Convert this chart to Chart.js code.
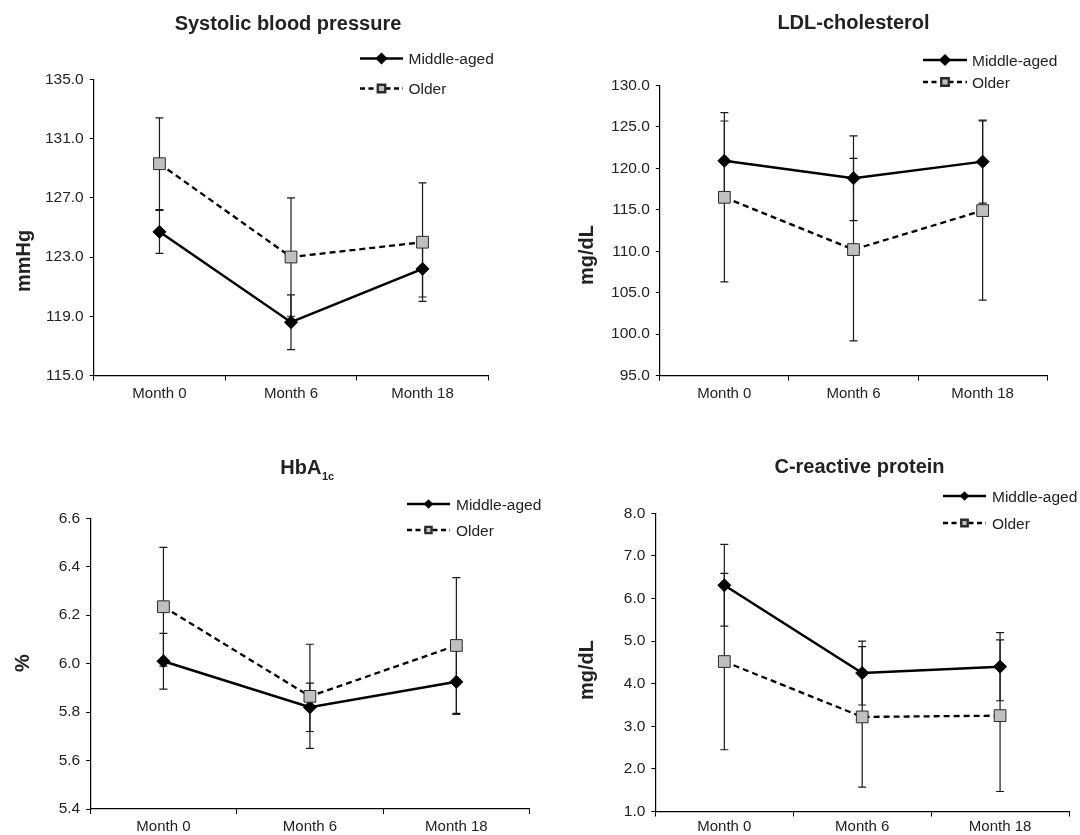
<!DOCTYPE html>
<html>
<head>
<meta charset="utf-8">
<script src="https://cdn.jsdelivr.net/npm/chart.js@4.4.1/dist/chart.umd.min.js"></script>
<style>
html,body{margin:0;padding:0;background:#fff;}
body{width:1080px;height:835px;position:relative;overflow:hidden;}
canvas{position:absolute;left:0;top:0;}
</style>
</head>
<body>
<canvas id="c1" width="1080" height="870"></canvas>
<canvas id="c2" width="1080" height="870"></canvas>
<canvas id="c3" width="1080" height="870"></canvas>
<canvas id="c4" width="1080" height="870"></canvas>
<script>
// ---------- data ----------
const months = ['Month 0', 'Month 6', 'Month 18'];
const seriesNames = ['Middle-aged', 'Older'];

const sbpMiddle    = [124.7, 118.6, 122.2];
const sbpMiddleErr = [1.45, 1.85, 1.9];
const sbpOlder     = [129.3, 123.0, 124.0];
const sbpOlderErr  = [3.1, 4.0, 4.0];
const sbpTicks     = [115, 119, 123, 127, 131, 135];

const ldlMiddle    = [120.9, 118.8, 120.8];
const ldlMiddleErr = [4.8, 5.1, 5.0];
const ldlOlder     = [116.5, 110.2, 114.9];
const ldlOlderErr  = [10.2, 11.0, 10.8];
const ldlTicks     = [95, 100, 105, 110, 115, 120, 125, 130];

const hbaMiddle    = [6.01, 5.82, 5.925];
const hbaMiddleErr = [0.115, 0.10, 0.135];
const hbaOlder     = [6.235, 5.865, 6.075];
const hbaOlderErr  = [0.245, 0.215, 0.28];
const hbaTicks     = [5.4, 5.6, 5.8, 6.0, 6.2, 6.4, 6.6];

const crpMiddle    = [6.31, 4.25, 4.40];
const crpMiddleErr = [0.96, 0.75, 0.80];
const crpOlder     = [4.52, 3.22, 3.25];
const crpOlderErr  = [2.07, 1.65, 1.78];
const crpTicks     = [1, 2, 3, 4, 5, 6, 7, 8];

// ---------- styling / layout ----------
const FONT = '"Liberation Sans", Arial, Helvetica, sans-serif';
const TEXT = '#222222';
const CW = 1080, CH = 870;
const Y_W = 70, X_H = 34;

const panels = [
  { id: 'c1', title: 'Systolic blood pressure', sub: '', yLabel: 'mmHg',
    mid: sbpMiddle, midErr: sbpMiddleErr, old: sbpOlder, oldErr: sbpOlderErr, ticks: sbpTicks,
    area: { l: 93.7, r: 488.3, t: 79.3, b: 375.5 }, xPad: 4,
    titlePos: [288, 30], yLabelPos: [29.5, 261],
    legend: { x1: 360, x2: 403, tx: 408.5, ys: [58.5, 88.5], rd: 4.3, rs: 5.3 } },
  { id: 'c2', title: 'LDL-cholesterol', sub: '', yLabel: 'mg/dL',
    mid: ldlMiddle, midErr: ldlMiddleErr, old: ldlOlder, oldErr: ldlOlderErr, ticks: ldlTicks,
    area: { l: 659.8, r: 1047.2, t: 85.3, b: 375.7 }, xPad: 4,
    titlePos: [853.5, 28.5], yLabelPos: [593, 255],
    legend: { x1: 923, x2: 967, tx: 972, ys: [60, 82], rd: 4.3, rs: 5.3 } },
  { id: 'c3', title: 'HbA', sub: '1c', yLabel: '%',
    mid: hbaMiddle, midErr: hbaMiddleErr, old: hbaOlder, oldErr: hbaOlderErr, ticks: hbaTicks,
    area: { l: 90.2, r: 529.6, t: 518.3, b: 809 }, xPad: 3.5,
    titlePos: [307, 474.3], yLabelPos: [29.3, 663],
    legend: { x1: 407, x2: 450, tx: 456, ys: [504, 530], rd: 3.0, rs: 4.4 } },
  { id: 'c4', title: 'C-reactive protein', sub: '', yLabel: 'mg/dL',
    mid: crpMiddle, midErr: crpMiddleErr, old: crpOlder, oldErr: crpOlderErr, ticks: crpTicks,
    area: { l: 655.4, r: 1069, t: 513.3, b: 811.5 }, xPad: 1,
    titlePos: [859.5, 473.3], yLabelPos: [593, 670],
    legend: { x1: 943, x2: 986, tx: 992, ys: [496, 523], rd: 3.0, rs: 4.6 } }
];

// ---------- plugin: error bars, titles, axis labels, legend ----------
const decoPlugin = {
  id: 'deco',
  beforeDatasetsDraw(chart) {
    const ctx = chart.ctx, ys = chart.scales.y;
    chart.data.datasets.forEach((ds, i) => {
      const meta = chart.getDatasetMeta(i);
      ctx.save();
      ctx.strokeStyle = '#1a1a1a';
      ctx.lineWidth = 1.2;
      ctx.setLineDash([]);
      meta.data.forEach((pt, j) => {
        const v = ds.data[j], e = ds.errors[j];
        const yt = ys.getPixelForValue(v + e), yb = ys.getPixelForValue(v - e);
        const x = pt.x;
        ctx.beginPath();
        ctx.moveTo(x, yt); ctx.lineTo(x, yb);
        ctx.moveTo(x - 4, yt); ctx.lineTo(x + 4, yt);
        ctx.moveTo(x - 4, yb); ctx.lineTo(x + 4, yb);
        ctx.stroke();
      });
      ctx.restore();
    });
  },
  afterDraw(chart, args, opts) {
    const p = opts.panel, ctx = chart.ctx;
    ctx.save();
    // title
    ctx.fillStyle = TEXT;
    ctx.textBaseline = 'alphabetic';
    ctx.font = 'bold 20px ' + FONT;
    const tw = ctx.measureText(p.title).width;
    let sw = 0;
    if (p.sub) { ctx.font = 'bold 11px ' + FONT; sw = ctx.measureText(p.sub).width; }
    const startX = p.titlePos[0] - (tw + sw) / 2;
    ctx.textAlign = 'left';
    ctx.font = 'bold 20px ' + FONT;
    ctx.fillText(p.title, startX, p.titlePos[1]);
    if (p.sub) {
      ctx.font = 'bold 11px ' + FONT;
      ctx.fillText(p.sub, startX + tw + 0.5, p.titlePos[1] + 5.5);
    }
    // y axis label
    ctx.save();
    ctx.translate(p.yLabelPos[0], p.yLabelPos[1]);
    ctx.rotate(-Math.PI / 2);
    ctx.textAlign = 'center';
    ctx.font = 'bold 20px ' + FONT;
    ctx.fillText(p.yLabel, 0, 0);
    ctx.restore();
    // legend
    const L = p.legend;
    chart.data.datasets.forEach((ds, i) => {
      const y = L.ys[i];
      ctx.save();
      ctx.strokeStyle = ds.borderColor;
      ctx.lineWidth = ds.borderWidth;
      ctx.setLineDash(ds.legendDash || []);
      ctx.beginPath();
      ctx.moveTo(L.x1, y); ctx.lineTo(L.x2, y);
      ctx.stroke();
      ctx.setLineDash([]);
      ctx.fillStyle = ds.pointBackgroundColor;
      ctx.strokeStyle = ds.pointBorderColor;
      Chart.helpers.drawPoint(ctx, {
        pointStyle: ds.pointStyle, rotation: 0,
        radius: i === 0 ? L.rd : L.rs, borderWidth: ds.pointBorderWidth
      }, (L.x1 + L.x2) / 2, y);
      ctx.restore();
      ctx.fillStyle = TEXT;
      ctx.font = '15.5px ' + FONT;
      ctx.textAlign = 'left';
      ctx.textBaseline = 'alphabetic';
      ctx.fillText(ds.label, L.tx, y + 5.5);
    });
    ctx.restore();
  }
};

function makeChart(p) {
  const a = p.area;
  const tmin = p.ticks[0], tmax = p.ticks[p.ticks.length - 1];
  return new Chart(document.getElementById(p.id), {
    type: 'line',
    data: {
      labels: months,
      datasets: [
        { label: seriesNames[0], data: p.mid, errors: p.midErr,
          borderColor: '#000000', borderWidth: 2.5, borderDash: [], legendDash: [],
          pointStyle: 'rectRot', pointRadius: 6.5,
          pointBackgroundColor: '#000000', pointBorderColor: '#000000', pointBorderWidth: 1,
          tension: 0, fill: false, order: 1 },
        { label: seriesNames[1], data: p.old, errors: p.oldErr,
          borderColor: '#000000', borderWidth: 2.3, borderDash: [6, 4], legendDash: [5, 3.5],
          pointStyle: 'rect', pointRadius: 8.3,
          pointBackgroundColor: '#c0c0c0', pointBorderColor: '#2a2a2a', pointBorderWidth: 1,
          tension: 0, fill: false, order: 0 }
      ]
    },
    options: {
      responsive: false,
      animation: false,
      events: [],
      layout: { padding: { left: a.l - Y_W, right: CW - a.r, top: a.t, bottom: CH - a.b - X_H } },
      plugins: {
        legend: { display: false },
        tooltip: { enabled: false },
        title: { display: false },
        deco: { panel: p }
      },
      scales: {
        x: {
          type: 'category',
          offset: true,
          grid: { offset: true, drawOnChartArea: false, drawTicks: true, tickLength: 5, color: '#000', tickColor: '#000', lineWidth: 1 },
          border: { display: true, color: '#000', width: 1.2 },
          ticks: { color: TEXT, font: { family: FONT, size: 15 }, padding: p.xPad, maxRotation: 0, autoSkip: false },
          afterFit: s => { s.height = X_H; }
        },
        y: {
          min: tmin, max: tmax,
          grid: { drawOnChartArea: false, drawTicks: true, tickLength: 4, color: '#000', tickColor: '#000', lineWidth: 1 },
          border: { display: true, color: '#000', width: 1.2 },
          ticks: { color: TEXT, font: { family: FONT, size: 15.5 }, padding: 6,
                   callback: v => Number(v).toFixed(1) },
          afterBuildTicks: s => { s.ticks = p.ticks.map(v => ({ value: v })); },
          afterFit: s => { s.width = Y_W; }
        }
      }
    },
    plugins: [decoPlugin]
  });
}

panels.forEach(makeChart);
</script>
</body>
</html>
